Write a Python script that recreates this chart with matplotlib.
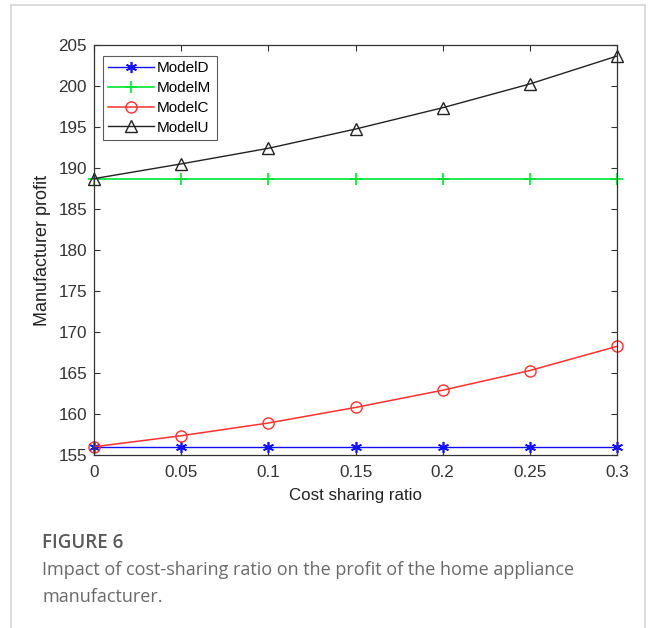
import numpy as np
import matplotlib
matplotlib.use('Agg')
import matplotlib.pyplot as plt
from matplotlib.lines import Line2D

ratio = [0, 0.05, 0.1, 0.15, 0.2, 0.25, 0.3]
ratio_labels = ['0', '0.05', '0.1', '0.15', '0.2', '0.25', '0.3']
model_d = [156.0, 156.0, 156.0, 156.0, 156.0, 156.0, 156.0]
model_m = [188.7, 188.7, 188.7, 188.7, 188.7, 188.7, 188.7]
model_c = [156.0, 157.35, 158.9, 160.8, 162.9, 165.3, 168.25]
model_u = [188.7, 190.5, 192.4, 194.75, 197.35, 200.25, 203.65]
y_ticks = [155, 160, 165, 170, 175, 180, 185, 190, 195, 200, 205]

plt.rcParams['font.family'] = ['Liberation Sans', 'DejaVu Sans']

fig = plt.figure(figsize=(6.54, 6.28), dpi=100)
ax = fig.add_axes([94/654, 1 - 455/628, 523/654, 410/628])

ax.plot(ratio, model_d, color='#1010ff', lw=1, marker=(6, 2, 0), ms=8, mew=1.2, label='ModelD', clip_on=False)
ax.plot(ratio, model_m, color='#00e632', lw=1.2, marker='+', ms=9, mew=1.2, label='ModelM', clip_on=False)
ax.plot(ratio, model_c, color='#ff3030', lw=1.1, marker='o', ms=8, mew=1, mfc='none', label='ModelC', clip_on=False)
ax.plot(ratio, model_u, color='#222222', lw=1, marker='^', ms=8, mew=1, mfc='none', label='ModelU', clip_on=False)

ax.set_xlim(0, 0.3)
ax.set_ylim(155, 205)
ax.set_xticks(ratio)
ax.set_xticklabels(ratio_labels)
ax.set_yticks(y_ticks)
ax.tick_params(direction='in', top=True, right=True, labelsize=12.3, length=4, width=0.8,
               colors='#333333')
ax.tick_params(axis='x', pad=7)
ax.tick_params(axis='y', pad=5)
for s in ax.spines.values():
    s.set_color('#333333')
    s.set_linewidth(0.9)

ax.set_xlabel('Cost sharing ratio', fontsize=12.2, labelpad=6, color='#222222')
ax.set_ylabel('Manufacturer profit', fontsize=13, labelpad=5, color='#222222')

leg = ax.legend(loc='upper left', fontsize=11, frameon=True, fancybox=False, handlelength=3.0,
                borderpad=0.35, labelspacing=0.38, handletextpad=0.2, borderaxespad=0,
                bbox_to_anchor=(0.017, 0.973))
leg.get_frame().set_edgecolor('#333333')
leg.get_frame().set_linewidth(0.8)

# card border
bc = '#d6d6d6'
fig.add_artist(Line2D([11/654, 11/654], [0, 1 - 5/628], transform=fig.transFigure, color=bc, lw=1.2))
fig.add_artist(Line2D([11/654, 645/654], [1 - 5/628, 1 - 5/628], transform=fig.transFigure, color=bc, lw=1.2))
fig.add_artist(Line2D([645/654, 645/654], [0, 1 - 5/628], transform=fig.transFigure, color=bc, lw=1.2))

cap = ['Open Sans', 'DejaVu Sans']
fig.text(42/654, 1 - 543/628, 'FIGURE 6', fontsize=13.5, color='#5a5a5a', family=cap,
         fontweight='semibold', va='center')
fig.text(42/654, 1 - 570/628, 'Impact of cost-sharing ratio on the profit of the home appliance',
         fontsize=13, color='#6a6a6a', family=cap, va='center')
fig.text(42/654, 1 - 597/628, 'manufacturer.', fontsize=13, color='#6a6a6a', family=cap, va='center')

fig.savefig('out.png', dpi=100)
